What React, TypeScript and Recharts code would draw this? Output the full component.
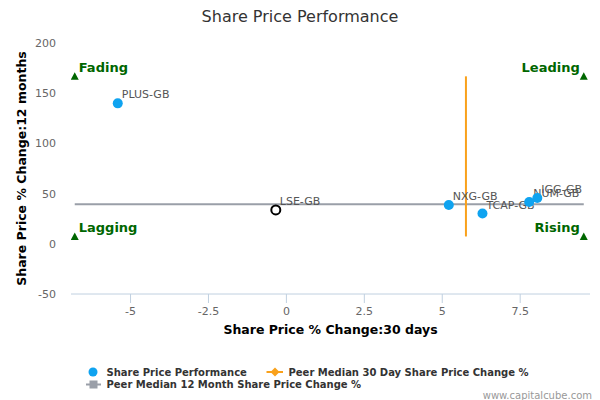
import React from 'react';
import { ScatterChart, Scatter, XAxis, YAxis } from 'recharts';

// peers: 30 day change (x) vs 12 month change (y)
const peerNames = ['PLUS-GB', 'NXG-GB', 'TCAP-GB', 'NUM-GB', 'IGG-GB'];
const peer30d = [-5.41, 5.21, 6.29, 7.79, 8.05];
const peer12m = [139.9, 38.6, 30.1, 41.6, 45.6];

// the company itself
const subjectName = 'LSE-GB';
const subject30d = -0.34;
const subject12m = 33.7;

// peer medians and the box they are drawn across
const median30d = 5.76;
const median12m = 39.3;
const boxX = [-6.79, 9.54];
const boxY = [7.3, 166.8];

const quadrantNames = ['Fading', 'Leading', 'Lagging', 'Rising'];
const quadrantX = [boxX[0], boxX[1], boxX[0], boxX[1]];
const quadrantY = [boxY[1], boxY[1], boxY[0], boxY[0]];

const xTicks = [-5, -2.5, 0, 2.5, 5, 7.5];
const yTicks = [-50, 0, 50, 100, 150, 200];
const xDomain = [-6.91, 9.74];
const yDomain = [-50, 200];

const BLUE = '#0FA3F0';
const ORANGE = '#F9A11B';
const GREY = '#9A9FA8';
const GREEN = '#006600';

const peers = peerNames.map((name, i) => ({ name, x: peer30d[i], y: peer12m[i] }));
const subject = [{ name: subjectName, x: subject30d, y: subject12m }];
const vLine = [{ x: median30d, y: boxY[0] }, { x: median30d, y: boxY[1] }];
const hLine = [{ x: boxX[0], y: median12m }, { x: boxX[1], y: median12m }];
const quadrants = quadrantNames.map((name, i) => ({ name, x: quadrantX[i], y: quadrantY[i] }));

const labelStyle = { fontSize: 11, fill: '#555' };

const PeerDot = (props: any) => {
    const { cx, cy, payload } = props;
    return (
        <g>
            <circle cx={cx} cy={cy} r={5} fill={BLUE} />
            <text x={cx + 4} y={cy - 5} {...labelStyle}>{payload.name}</text>
        </g>
    );
};

const SubjectDot = (props: any) => {
    const { cx, cy, payload } = props;
    return (
        <g>
            <circle cx={cx} cy={cy} r={4.5} fill="#fff" stroke="#000" strokeWidth={2} />
            <text x={cx + 4} y={cy - 5} {...labelStyle}>{payload.name}</text>
        </g>
    );
};

const QuadrantMark = (props: any) => {
    const { cx, cy, payload } = props;
    const left = payload.x < median30d;
    return (
        <g>
            <path d={`M${cx},${cy - 4} L${cx + 4},${cy + 3.5} L${cx - 4},${cy + 3.5} Z`} fill={GREEN} />
            <text
                x={left ? cx + 4 : cx - 4}
                y={cy - 4.5}
                textAnchor={left ? 'start' : 'end'}
                fontSize={13}
                fontWeight="bold"
                fill={GREEN}
            >
                {payload.name}
            </text>
        </g>
    );
};

const Empty = () => <g />;

const YTitle = (props: any) => {
    const { viewBox } = props;
    const cy = viewBox.y + viewBox.height / 2;
    const cx = 21.5;
    return (
        <text
            x={cx}
            y={cy}
            transform={`rotate(-90 ${cx} ${cy})`}
            textAnchor="middle"
            dominantBaseline="central"
            fontSize={12.5}
            fontWeight="bold"
            fill="#000"
        >
            Share Price % Change:12 months
        </text>
    );
};

const App: React.FC = () => {
    return (
        <div style={{ position: 'absolute', left: 0, top: 0, width: 600, height: 400, fontFamily: '"DejaVu Sans", sans-serif', background: '#fff' }}>
            <ScatterChart width={600} height={400} margin={{ top: 43, right: 10, bottom: 66, left: 11 }}>
                <XAxis
                    type="number"
                    dataKey="x"
                    domain={xDomain}
                    ticks={xTicks}
                    interval={0}
                    allowDataOverflow
                    height={40}
                    stroke="#C0D0E0"
                    tickSize={9}
                    tickMargin={4}
                    tick={{ fontSize: 11, fill: '#666' }}
                    label={{ value: 'Share Price % Change:30 days', position: 'insideBottom', offset: 0, fontSize: 12.5, fontWeight: 'bold', fill: '#000' }}
                />
                <YAxis
                    type="number"
                    dataKey="y"
                    domain={yDomain}
                    ticks={yTicks}
                    interval={0}
                    allowDataOverflow
                    width={60}
                    axisLine={false}
                    tickLine={false}
                    tickSize={0}
                    tickMargin={15}
                    tick={{ fontSize: 11, fill: '#666' }}
                    label={{ content: YTitle }}
                />
                <Scatter data={hLine} line={{ stroke: GREY, strokeWidth: 2 }} shape={Empty} isAnimationActive={false} />
                <Scatter data={vLine} line={{ stroke: ORANGE, strokeWidth: 2 }} shape={Empty} isAnimationActive={false} />
                <Scatter data={quadrants} shape={QuadrantMark} isAnimationActive={false} />
                <Scatter data={subject} shape={SubjectDot} isAnimationActive={false} />
                <Scatter data={peers} shape={PeerDot} isAnimationActive={false} />
            </ScatterChart>
            <svg width={600} height={400} style={{ position: 'absolute', left: 0, top: 0, pointerEvents: 'none' }}>
                <text x={300} y={21.5} textAnchor="middle" fontSize={16} fill="#333">Share Price Performance</text>
                <g fontSize={10} fontWeight="bold" fill="#333">
                    <circle cx={93} cy={372} r={4.5} fill={BLUE} />
                    <text x={106.5} y={372} dominantBaseline="central">Share Price Performance</text>
                    <line x1={266.5} x2={283} y1={372} y2={372} stroke={ORANGE} strokeWidth={2} />
                    <path d="M275,367.5 L279.5,372 L275,376.5 L270.5,372 Z" fill={ORANGE} />
                    <text x={288.5} y={372} dominantBaseline="central">Peer Median 30 Day Share Price Change %</text>
                    <line x1={86} x2={101} y1={384.5} y2={384.5} stroke={GREY} strokeWidth={2} />
                    <rect x={89.5} y={380.5} width={8} height={8} fill={GREY} />
                    <text x={106.5} y={384.5} dominantBaseline="central">Peer Median 12 Month Share Price Change %</text>
                </g>
                <text x={592} y={395.5} textAnchor="end" dominantBaseline="central" fontSize={10} fill="#999">www.capitalcube.com</text>
            </svg>
        </div>
    );
};

export default App;
